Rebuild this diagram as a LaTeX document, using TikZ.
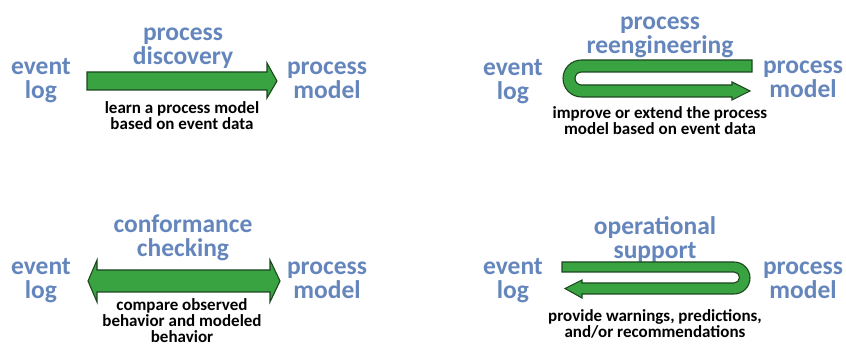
\documentclass[tikz,border=0pt]{standalone}
\usepackage{fontspec}
\setmainfont{Carlito}
\definecolor{stageblue}{RGB}{100,134,188}
\definecolor{flowgreen}{RGB}{56,163,64}
\definecolor{flowedge}{RGB}{28,72,32}
\begin{document}
\begin{tikzpicture}[x=1pt, y=1pt, line join=round,
		stage/.style={text=stageblue, inner sep=0pt, align=center, font=\fontsize{25.5}{24}\selectfont\bfseries},
		note/.style={inner sep=0pt, align=center, font=\fontsize{17}{16}\selectfont\bfseries},
		flow/.style={fill=flowgreen, draw=flowedge, line width=1.1pt, line join=miter}]
	\useasboundingbox (0,0) rectangle (846,347);

	% discovery
	\node[stage] (log1) at (41,266) {event\\log};
	\node[stage] (model1) at (327,267) {process\\model};
	\node[stage] (disc) at (183,299) {process\\discovery};
	\node[note] (disc note) at (182,231) {learn a process model\\based on event data};
	\path (87,266) coordinate (A1) (277,266) coordinate (B1);
	\draw[flow] (A1) ++(0,9) -- ++(180,0) -- ++(0,9) -- (B1) -- ++(-10,-17) -- ++(0,8) -- ++(-180,0) -- cycle;

	% reengineering
	\node[stage] (log2) at (513,265.5) {event\\log};
	\node[stage] (model2) at (803,267.5) {process\\model};
	\node[stage] (reeng) at (660,310) {process\\reengineering};
	\node[note] (reeng note) at (660,226.5) {improve or extend the process\\model based on event data};
	\path (581.5,268.5) coordinate (C2) (750,256) coordinate (B2);
	\draw[flow] (752,287) -- (C2 |- 0,287) arc[start angle=90, end angle=270, radius=18.5]
		-- (732,250) -- (732,247) -- (B2) -- (732,265) -- (732,262)
		-- (C2 |- 0,262) arc[start angle=270, end angle=90, radius=6.5] -- (752,275) -- cycle;

	% conformance checking
	\node[stage] (log3) at (41,66) {event\\log};
	\node[stage] (model3) at (327,67) {process\\model};
	\node[stage] (conf) at (183,109) {conformance\\checking};
	\node[note] (conf note) at (182,26.5) {compare observed\\behavior and modeled\\behavior};
	\path (88,66) coordinate (A3) (280,66) coordinate (B3);
	\draw[flow] (A3) -- ++(9,21) -- ++(0,-10) -- ++(173,0) -- ++(0,10) -- (B3)
		-- ++(-10,-21) -- ++(0,10) -- ++(-173,0) -- ++(0,-10) -- cycle;

	% operational support
	\node[stage] (log4) at (513,66) {event\\log};
	\node[stage] (model4) at (803,67) {process\\model};
	\node[stage] (ops) at (655,107.5) {operational\\support};
	\node[note] (ops note) at (655,23.5) {provide warnings, predictions,\\and/or recommendations};
	\path (734,69) coordinate (C4) (565,58.5) coordinate (A4);
	\draw[flow] (562,85) -- (C4 |- 0,85) arc[start angle=90, end angle=-90, radius=16]
		-- (582,53) -- (582,49) -- (A4) -- (582,67) -- (582,64)
		-- (C4 |- 0,64) arc[start angle=-90, end angle=90, radius=5.5] -- (562,75) -- cycle;
\end{tikzpicture}
\end{document}
